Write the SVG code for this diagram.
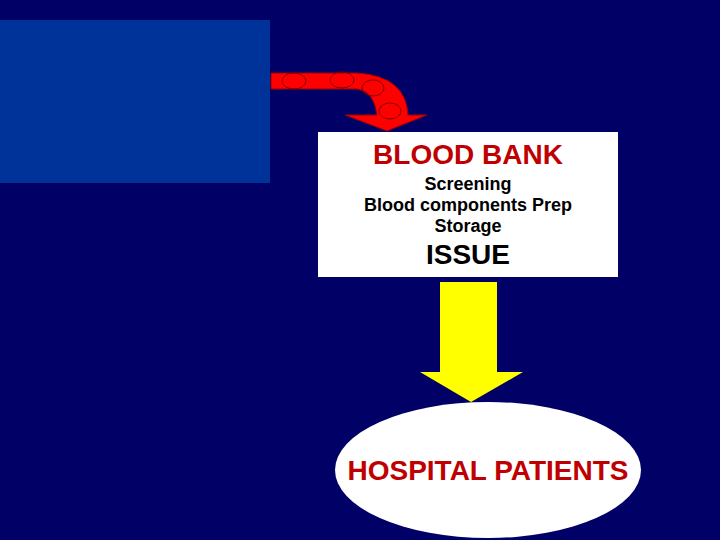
<svg xmlns="http://www.w3.org/2000/svg" width="720" height="540" viewBox="0 0 720 540">
<style>
.red{fill:#ff0000;stroke:#990000;stroke-width:1}
.cell{fill:none;stroke:#800000;stroke-width:1}
.t{font-family:"Liberation Sans",Arial,sans-serif;font-weight:bold;text-anchor:middle}
</style>
<rect width="720" height="540" fill="#000066"/>
<rect id="panel" x="0" y="20" width="270" height="163" fill="#003399"/>
<g id="connectors">
<g id="red-arrow">
<path class="red" d="M271,73 L357,73 Q406,76 408,115 L427,115 L387,131 L345,115 L377,115 Q374,91 357,89 L271,89 Z"/>
<ellipse class="cell" cx="294" cy="81" rx="12" ry="8"/>
<ellipse class="cell" cx="342" cy="80" rx="12" ry="8"/>
<ellipse class="cell" cx="373" cy="88" rx="11" ry="8"/>
<ellipse class="cell" cx="390" cy="111" rx="11" ry="8"/>
</g>
<path id="yellow-arrow" d="M440,282 L497,282 L497,372 L523,372 L471,402 L420,372 L440,372 Z" fill="#ffff00"/>
</g>
<g id="blood-bank">
<rect x="318" y="132" width="300" height="145" fill="#ffffff"/>
<text class="t" x="468" y="164" font-size="28" fill="#c00000">BLOOD BANK</text>
<text class="t" x="468" y="190" font-size="18">Screening</text>
<text class="t" x="468" y="211" font-size="18">Blood components Prep</text>
<text class="t" x="468" y="232" font-size="18">Storage</text>
<text class="t" x="468" y="264" font-size="28" font-weight="normal">ISSUE</text>
</g>
<g id="hospital">
<ellipse cx="488" cy="470" rx="153" ry="68" fill="#ffffff"/>
<text class="t" x="488" y="480" font-size="28" fill="#c00000">HOSPITAL PATIENTS</text>
</g>
</svg>
